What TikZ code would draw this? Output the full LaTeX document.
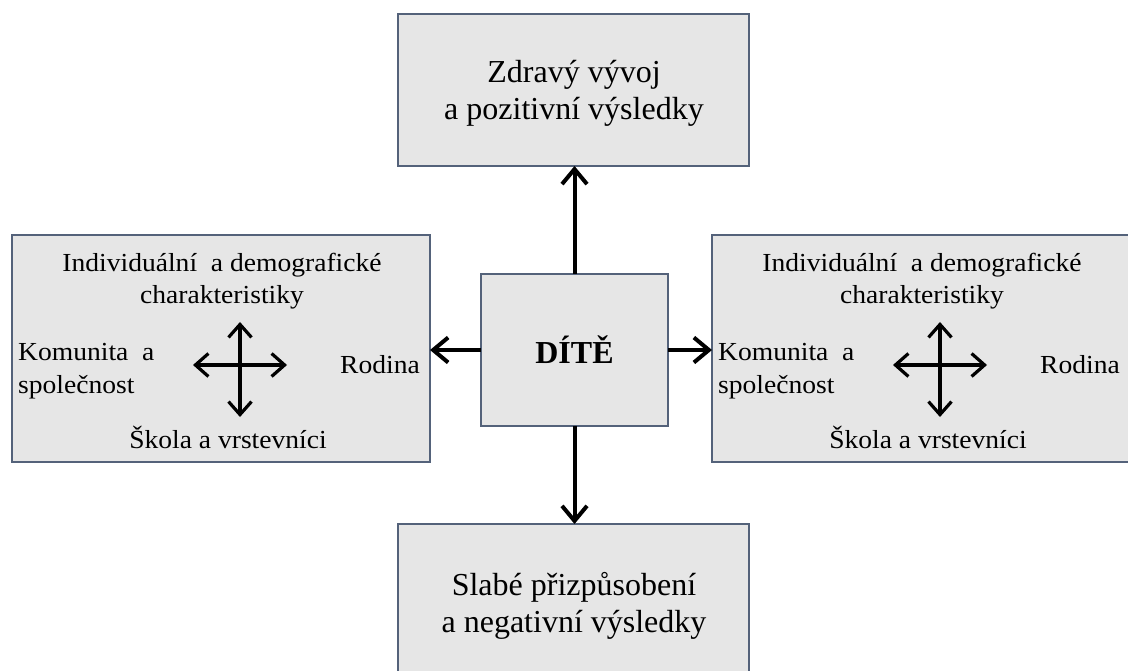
\documentclass[tikz,border=0pt]{standalone}
\usepackage{fontspec}
\setmainfont{Liberation Serif}
\newfontfamily\sidefont[FakeStretch=1.06]{Liberation Serif}
\usetikzlibrary{arrows.meta}
\definecolor{boxline}{RGB}{84,98,122}
\definecolor{boxfill}{RGB}{230,230,230}
\begin{document}
\begin{tikzpicture}[x=1pt,y=-1pt,
  box/.style={draw=boxline, fill=boxfill, line width=2pt, inner sep=0pt, outer sep=0pt},
  big/.style={font=\fontsize{32}{37}\selectfont, anchor=base, inner sep=0pt},
  small/.style={font=\sidefont\fontsize{26}{33}\selectfont, anchor=base, inner sep=0pt},
  link/.style={line width=4pt, -{Straight Barb[length=15pt,width=25pt]}},
  cross/.style={line width=3.2pt, {Straight Barb[length=13pt,width=23pt]}-{Straight Barb[length=13pt,width=23pt]}}]
\useasboundingbox (0,0) rectangle (1128,671);
\clip (0,0) rectangle (1128,671);
% boxes
\node[box, minimum width=351pt, minimum height=152pt] (top) at (573.5,90) {};
\node[box, minimum width=418pt, minimum height=227pt] (left) at (221,348.5) {};
\node[box, minimum width=418pt, minimum height=226pt] (right) at (921,348.5) {};
\node[box, minimum width=187pt, minimum height=152pt] (child) at (574.5,350) {};
\node[box, minimum width=351pt, minimum height=152pt] (bottom) at (573.5,600) {};
% main texts
\node[big] (t1) at (574,83) {Zdravý vývoj};
\node[big] (t2) at (574,120) {a pozitivní výsledky};
\node[big, font=\fontsize{32}{37}\selectfont\bfseries] (c1) at (574.5,363) {DÍTĚ};
\node[big] (b1) at (574,595) {Slabé přizpůsobení};
\node[big] (b2) at (574,632) {a negativní výsledky};
% left box content
\node[small] (l1) at (222,272) {Individuální\ \ a demografické};
\node[small] (l2) at (222,304) {charakteristiky};
\node[small, anchor=base west] (l3) at (18,360) {Komunita\ \ a};
\node[small, anchor=base west] (l4) at (18,393) {společnost};
\node[small, anchor=base east] (l5) at (420,373) {Rodina};
\node[small] (l6) at (228,448) {Škola a vrstevníci};
\coordinate (lN) at (240,322);
\coordinate (lS) at (240,417);
\coordinate (lW) at (193,365);
\coordinate (lE) at (287,365);
\draw[cross] (lN) -- (lS);
\draw[cross] (lW) -- (lE);
% right box content
\node[small] (r1) at (922,272) {Individuální\ \ a demografické};
\node[small] (r2) at (922,304) {charakteristiky};
\node[small, anchor=base west] (r3) at (718,360) {Komunita\ \ a};
\node[small, anchor=base west] (r4) at (718,393) {společnost};
\node[small, anchor=base east] (r5) at (1120,373) {Rodina};
\node[small] (r6) at (928,448) {Škola a vrstevníci};
\coordinate (rN) at (940,322);
\coordinate (rS) at (940,417);
\coordinate (rW) at (893,365);
\coordinate (rE) at (987,365);
\draw[cross] (rN) -- (rS);
\draw[cross] (rW) -- (rE);
% connectors
\draw[link] (child.north) -- (child.north |- top.south);
\draw[link] (child.south) -- (child.south |- bottom.north);
\draw[link] (child.west) -- (child.west -| left.east);
\draw[link] (child.east) -- (child.east -| right.west);
\end{tikzpicture}
\end{document}
